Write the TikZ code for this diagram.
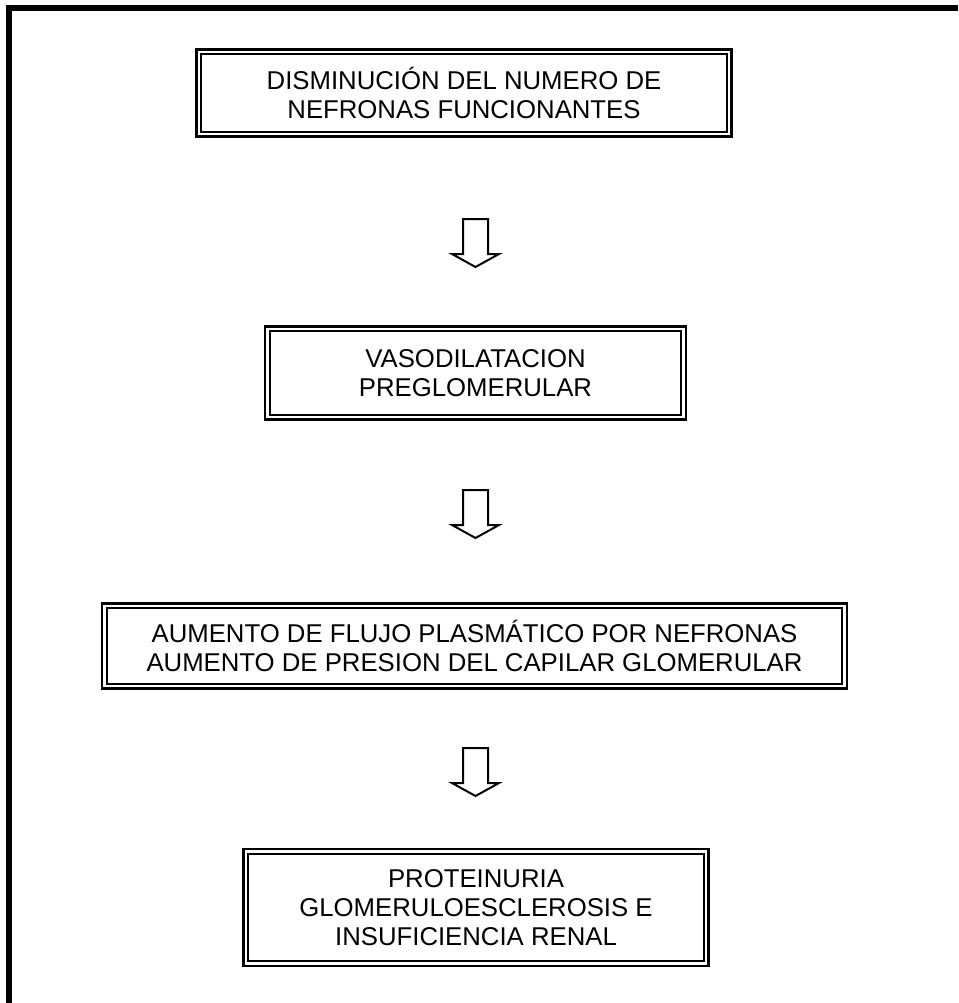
\documentclass[tikz,border=0pt]{standalone}
\usepackage{fontspec}
\setmainfont{Liberation Sans}
\usetikzlibrary{calc}
\tikzset{every node/.style={font=\fontsize{19.3}{22}\selectfont},
  caja/.style={draw,double,line width=1.8pt,double distance=1.6pt,align=center,inner sep=0pt},
  marco/.style={line width=4.2pt,line join=miter},
  flecha/.pic={\draw[line width=1.5pt,line join=miter] (-12.5,0)--(12.5,0)--(12.5,35)--(23.5,35)--(0,48)--(-23.5,35)--(-12.5,35)--cycle;}}

\begin{document}
\begin{tikzpicture}[x=0.75pt,y=-0.75pt]
\useasboundingbox (0,0) rectangle (958,1003);
\draw[marco] (8.8,1003)--(8.8,7.8)--(958,7.8);
\node[caja,minimum width=398pt,minimum height=62pt] (b1) at (464,93)
  {DISMINUCIÓN DEL NUMERO DE\\NEFRONAS FUNCIONANTES};
\node[caja,minimum width=312pt,minimum height=66.5pt] (b2) at (475.5,373)
  {VASODILATACION\\PREGLOMERULAR};
\node[caja,minimum width=555pt,minimum height=60.5pt] (b3) at (474.5,646)
  {AUMENTO DE FLUJO PLASMÁTICO POR NEFRONAS\\AUMENTO DE PRESION DEL CAPILAR GLOMERULAR};
\node[caja,minimum width=345.5pt,minimum height=84pt] (b4) at (476,907.5)
  {PROTEINURIA\\GLOMERULOESCLEROSIS E\\INSUFICIENCIA RENAL};
\pic at (475.5,219) {flecha};
\pic at (475.5,490) {flecha};
\pic at (475.5,748) {flecha};
\end{tikzpicture}
\end{document}
